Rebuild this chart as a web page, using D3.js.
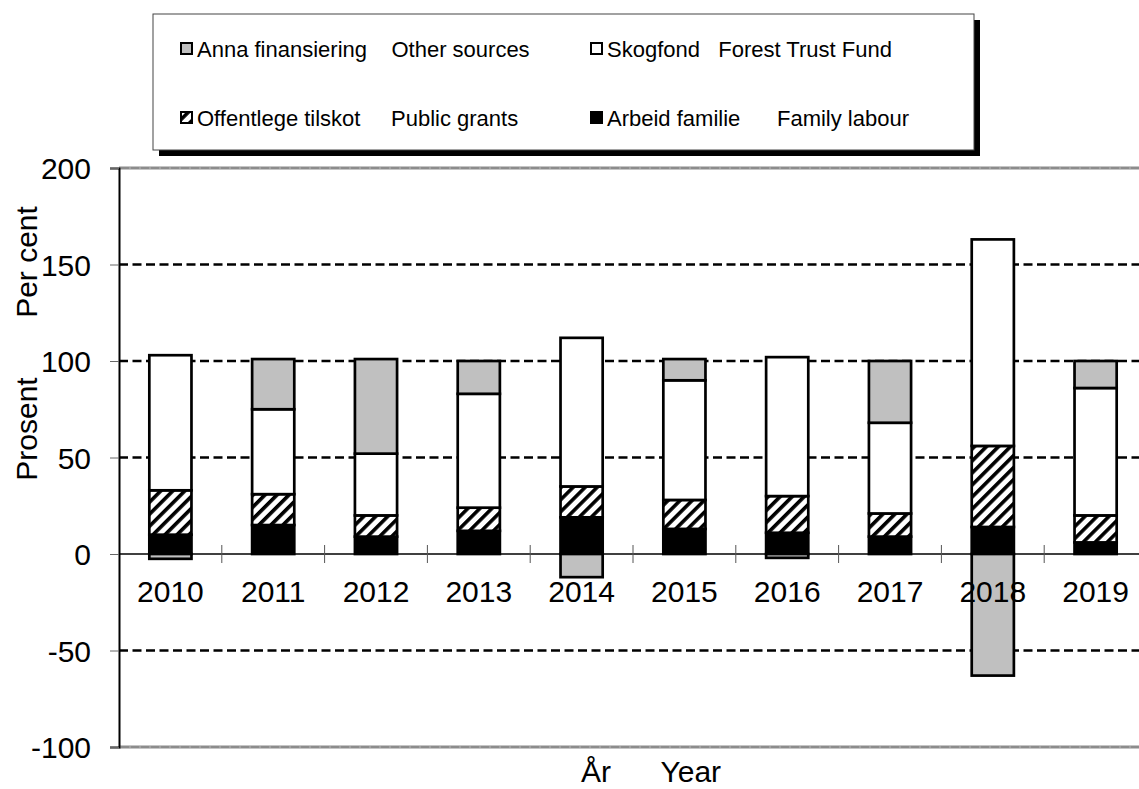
<!DOCTYPE html>
<html>
<head>
<meta charset="utf-8">
<script src="https://cdn.jsdelivr.net/npm/d3@7"></script>
<style>
  body { margin: 0; background: #fff; }
  svg text { font-family: "Liberation Sans", Arial, sans-serif; fill: #000; }
</style>
</head>
<body>
<div id="chart"></div>
<script>
// Data (per cent)
const years = ["2010", "2011", "2012", "2013", "2014", "2015", "2016", "2017", "2018", "2019"];
const familyLabour = [10, 15, 9, 12, 19, 13, 11, 9, 14, 6];
const publicGrants = [23, 16, 11, 12, 16, 15, 19, 12, 42, 14];
const forestTrust = [70, 44, 32, 59, 77, 62, 72, 47, 107, 66];
const otherSources = [-2.5, 26, 49, 17, -12, 11, -2, 32, -63, 14];
const yTicks = [-100, -50, 0, 50, 100, 150, 200];
const legendLabels = {
  other: "Anna finansiering    Other sources",
  forest: "Skogfond   Forest Trust Fund",
  public: "Offentlege tilskot     Public grants",
  family: "Arbeid familie      Family labour"
};

const width = 1139, height = 789;
const plot = {left: 119, right: 1147, top: 168, bottom: 747};

const svg = d3.select("#chart").append("svg")
  .attr("width", width)
  .attr("height", height);

// hatch pattern for public grants
const defs = svg.append("defs");
defs.append("pattern")
  .attr("id", "hatch")
  .attr("patternUnits", "userSpaceOnUse")
  .attr("width", 8.5)
  .attr("height", 8.5)
  .attr("patternTransform", "rotate(45)")
  .call(p => {
    p.append("rect").attr("width", 8.5).attr("height", 8.5).attr("fill", "#fff");
    p.append("rect").attr("width", 3.6).attr("height", 8.5).attr("fill", "#000");
  });

const fills = {family: "#000", public: "url(#hatch)", forest: "#fff", other: "#c0c0c0"};

// stack bottom to top: family, public, forest, other
const keys = ["family", "public", "forest", "other"];
const table = years.map((yr, i) => ({
  year: yr,
  family: familyLabour[i],
  public: publicGrants[i],
  forest: forestTrust[i],
  other: otherSources[i]
}));
const stacked = d3.stack().keys(keys).offset(d3.stackOffsetDiverging)(table);

const x = d3.scaleBand().domain(years).range([plot.left, plot.right]);
const y = d3.scaleLinear().domain([-100, 200]).range([plot.bottom, plot.top]);
const barW = x.bandwidth() * 0.41;

// gridlines
const grid = svg.append("g");
grid.selectAll("line.dash")
  .data(yTicks.filter(t => t !== 0 && t !== 200 && t !== -100))
  .join("line")
    .attr("x1", plot.left).attr("x2", plot.right)
    .attr("y1", d => y(d)).attr("y2", d => y(d))
    .attr("stroke", "#000")
    .attr("stroke-width", 2.5)
    .attr("stroke-dasharray", "9,4.5");
// top and bottom frame lines are grey
grid.selectAll("line.edge")
  .data([200, -100])
  .join("line")
    .attr("x1", plot.left).attr("x2", plot.right)
    .attr("y1", d => y(d)).attr("y2", d => y(d))
    .attr("stroke", "#8c8c8c")
    .attr("stroke-width", 3);
grid.selectAll("line.edge2")
  .data([200, -100])
  .join("line")
    .attr("x1", plot.left).attr("x2", plot.right)
    .attr("y1", d => y(d)).attr("y2", d => y(d))
    .attr("stroke", "#b5b5b5")
    .attr("stroke-width", 1)
    .attr("stroke-dasharray", "2,8");

// zero line
svg.append("line")
  .attr("x1", plot.left).attr("x2", plot.right)
  .attr("y1", y(0)).attr("y2", y(0))
  .attr("stroke", "#000")
  .attr("stroke-width", 1.5);

// category separators on the zero line
svg.append("g").selectAll("line")
  .data(years.slice(1))
  .join("line")
    .attr("x1", d => x(d)).attr("x2", d => x(d))
    .attr("y1", y(0) - 9).attr("y2", y(0) + 9)
    .attr("stroke", "#555")
    .attr("stroke-width", 1);

// bars
svg.append("g").selectAll("g")
  .data(stacked)
  .join("g")
    .attr("fill", d => fills[d.key])
  .selectAll("rect")
  .data(d => d)
  .join("rect")
    .attr("x", d => x(d.data.year) + (x.bandwidth() - barW) / 2)
    .attr("width", barW)
    .attr("y", d => y(Math.max(d[0], d[1])))
    .attr("height", d => Math.abs(y(d[0]) - y(d[1])))
    .attr("stroke", "#000")
    .attr("stroke-width", 2.7);

// y axis
const yAxis = svg.append("g")
  .attr("transform", `translate(${plot.left},0)`)
  .call(d3.axisLeft(y).tickValues(yTicks).tickSize(9).tickPadding(19).tickFormat(d => String(d)));
yAxis.select(".domain").attr("stroke", "#000").attr("stroke-width", 2);
yAxis.selectAll(".tick line").attr("stroke", "#666");
yAxis.selectAll("text").style("font-size", "30px").attr("dy", "0.36em");

// x axis labels (just under the zero line)
const xAxis = svg.append("g")
  .attr("transform", `translate(0,${y(0)})`)
  .call(d3.axisBottom(x).tickSize(0).tickPadding(27));
xAxis.select(".domain").remove();
xAxis.selectAll("text").style("font-size", "30px");

// axis titles
svg.append("text")
  .attr("transform", "translate(37,262) rotate(-90)")
  .attr("text-anchor", "middle")
  .style("font-size", "30px")
  .text("Per cent");
svg.append("text")
  .attr("transform", "translate(37,429) rotate(-90)")
  .attr("text-anchor", "middle")
  .style("font-size", "30px")
  .text("Prosent");
svg.append("text")
  .attr("x", 581).attr("y", 782)
  .style("font-size", "30px")
  .style("white-space", "pre")
  .text("År      Year");

// legend
const legend = svg.append("g");
legend.append("rect")
  .attr("x", 159).attr("y", 20).attr("width", 821).attr("height", 136)
  .attr("fill", "#000");
legend.append("rect")
  .attr("x", 153).attr("y", 14).attr("width", 821).attr("height", 136)
  .attr("fill", "#fff").attr("stroke", "#444").attr("stroke-width", 1);

const legendItems = [
  {key: "other", col: 0, row: 0},
  {key: "forest", col: 1, row: 0},
  {key: "public", col: 0, row: 1},
  {key: "family", col: 1, row: 1}
];
const colX = [180, 590], rowY = [49, 118];
const li = legend.selectAll("g.item")
  .data(legendItems)
  .join("g")
    .attr("transform", d => `translate(${colX[d.col]},${rowY[d.row]})`);
li.append("rect")
  .attr("x", 1).attr("y", -6).attr("width", 11).attr("height", 11)
  .attr("fill", d => fills[d.key])
  .attr("stroke", "#000").attr("stroke-width", 2);
li.append("text")
  .attr("x", 17).attr("y", 8)
  .style("font-size", "22px")
  .style("white-space", "pre")
  .text(d => legendLabels[d.key]);
</script>
</body>
</html>
